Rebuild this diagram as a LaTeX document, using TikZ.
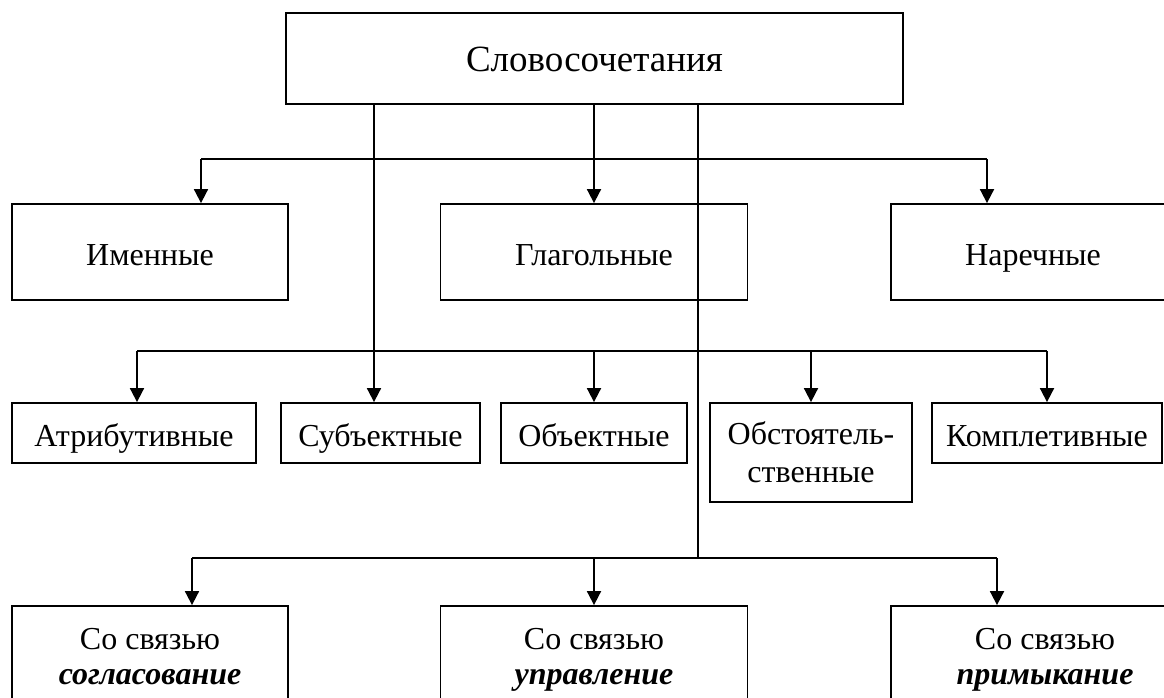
\documentclass[tikz,border=0pt]{standalone}
\usepackage{fontspec}
\setmainfont{Liberation Serif}
\usepackage{tikz}
\usetikzlibrary{arrows.meta}
\newcommand{\boxstrut}{\rule[-8pt]{0pt}{42pt}}
\tikzset{
  box/.style={draw,line width=1.8pt,inner sep=0pt,align=center,
              font=\fontsize{32}{37}\selectfont,
              execute at begin node={\boxstrut},execute at end node={\boxstrut}},
  box top/.style={box,minimum width=617pt,minimum height=91pt,
                  font=\fontsize{37}{42}\selectfont},
  box kind/.style={box,minimum height=96pt},
  box role/.style={box,minimum height=60pt},
  box two/.style={box,text depth=-2pt},
  box link/.style={box two,minimum height=100pt,font=\fontsize{32}{35}\selectfont},
  connect/.style={line width=1.8pt,black},
  connect thin/.style={line width=1.2pt,black},
  connect arrow/.style={connect,-{Triangle[length=14pt,width=14pt]}}
}
\begin{document}
\begin{tikzpicture}[x=1pt,y=-1pt]
  \useasboundingbox (0,0) rectangle (1164,698);
  \clip (0,0) rectangle (1164,698);
  % Draw top node
  \node[box top] (slovo) at (594.5,58.5) {Словосочетания};
  % Draw kinds by main word
  \node[box kind,minimum width=276pt] (imen) at (150,252) {Именные};
  \node[box kind,minimum width=307pt] (glag) at (594,252) {Глагольные};
  \node[box kind,minimum width=284pt] (narech) at (1033,252) {Наречные};
  % Draw kinds by relation
  \node[box role,minimum width=244pt] (atrib) at (134,433) {Атрибутивные};
  \node[box role,minimum width=199pt] (subj) at (380.5,433) {Субъектные};
  \node[box role,minimum width=186pt] (obj) at (594,433) {Объектные};
  \node[box two,minimum width=202pt,minimum height=99pt,
        font=\fontsize{32}{38}\selectfont] (obst) at (811,452.5) {Обстоятель-\\ственные};
  \node[box role,minimum width=230pt] (kompl) at (1047,433) {Комплетивные};
  % Draw kinds by link
  \node[box link,minimum width=276pt] (soglas) at (150,656) {Со связью\\\textbf{\textit{согласование}}};
  \node[box link,minimum width=307pt] (uprav) at (594,656) {Со связью\\\textbf{\textit{управление}}};
  \node[box link,minimum width=308pt] (primyk) at (1045,656) {Со связью\\\textbf{\textit{примыкание}}};
  % Bus points
  \coordinate (b1l) at (201,159);
  \coordinate (b1r) at (987,159);
  \coordinate (b2l) at (137,351);
  \coordinate (b2s) at (374,351);
  \coordinate (b2r) at (1047,351);
  \coordinate (b3l) at (192,558);
  \coordinate (b3m) at (698,558);
  \coordinate (b3r) at (997,558);
  % First level
  \draw[connect] (b1l) -- (b1r);
  \draw[connect arrow] (b1l) -- (imen.north -| b1l);
  \draw[connect arrow] (slovo.south -| glag) -- (glag.north);
  \draw[connect arrow] (b1r) -- (narech.north -| b1r);
  % Second level
  \draw[connect arrow] (slovo.south -| b2s) -- (subj.north -| b2s);
  \draw[connect] (b2l) -- (b2r);
  \draw[connect arrow] (b2l) -- (atrib.north -| b2l);
  \draw[connect arrow] (obj.north |- b2l) -- (obj.north);
  \draw[connect arrow] (obst.north |- b2l) -- (obst.north);
  \draw[connect arrow] (b2r) -- (kompl.north -| b2r);
  % Third level
  \draw[connect thin] (slovo.south -| b3m) -- (b3m);
  \draw[connect] (b3l) -- (b3r);
  \draw[connect arrow] (b3l) -- (soglas.north -| b3l);
  \draw[connect arrow] (uprav.north |- b3l) -- (uprav.north);
  \draw[connect arrow] (b3r) -- (primyk.north -| b3r);
\end{tikzpicture}
\end{document}
